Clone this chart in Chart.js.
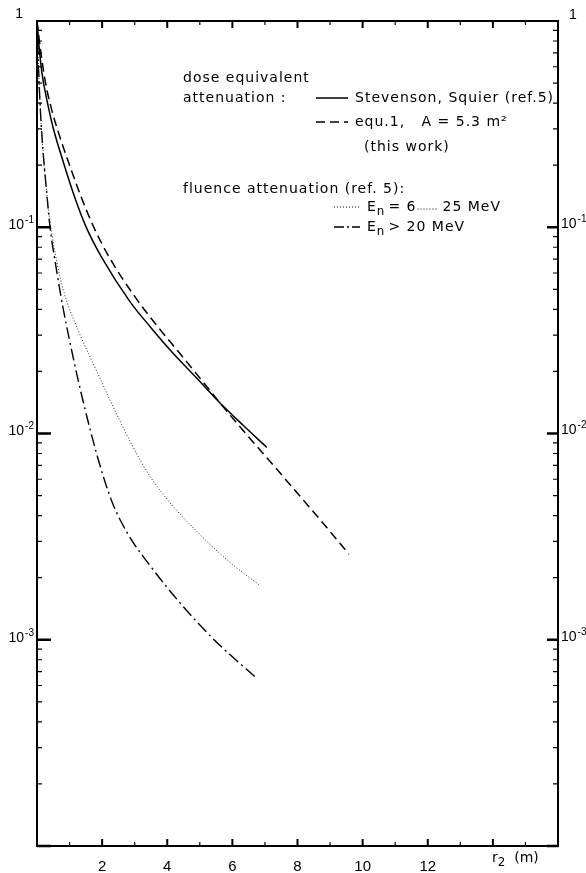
<!DOCTYPE html>
<html>
<head>
<meta charset="utf-8">
<script src="https://cdn.jsdelivr.net/npm/chart.js@4.4.0/dist/chart.umd.min.js"></script>
<style>
  html, body { margin: 0; padding: 0; background: #fff; }
</style>
</head>
<body>
<canvas id="myChart" width="586" height="873"></canvas>
<script>
// r2 in metres, attenuation values
const stevR = [0, 0.05, 0.15, 0.3, 0.5, 0.8, 1.15, 1.5, 2.0, 2.86, 3.5, 4.18, 4.9, 5.53, 6.33, 7.06];
const stevH = [1, 0.794, 0.562, 0.417, 0.302, 0.209, 0.141, 0.101, 0.0708, 0.0435, 0.0326, 0.0245, 0.0186, 0.01455, 0.01096, 0.00855];

const equR = [0, 0.1, 0.25, 0.45, 0.7, 1.0, 1.35, 1.72, 2.2, 3.0, 3.7, 4.39, 5.0, 5.62, 6.33, 7.2, 8.0, 8.8, 9.58];
const equH = [1, 0.741, 0.513, 0.372, 0.275, 0.2, 0.141, 0.102, 0.0724, 0.0462, 0.0331, 0.0244, 0.0186, 0.01406, 0.01035, 0.00719, 0.00513, 0.00365, 0.0026];

// fluence En = 6 ... 25 MeV
const fl6R = [0, 0.04, 0.1, 0.18, 0.28, 0.4, 0.6, 0.8, 1.32, 1.84, 2.55, 3.32, 4.0, 5.0, 6.0, 6.82];
const fl6H = [1, 0.631, 0.38, 0.24, 0.158, 0.107, 0.0692, 0.0501, 0.0302, 0.01995, 0.01148, 0.00676, 0.00479, 0.00324, 0.00232, 0.00185];

// fluence En > 20 MeV
const fl20R = [0, 0.04, 0.1, 0.18, 0.28, 0.4, 0.55, 0.8, 1.11, 1.41, 1.87, 2.3, 2.8, 3.47, 4.39, 5.47, 6.70];
const fl20H = [1, 0.631, 0.38, 0.24, 0.158, 0.1, 0.0692, 0.0407, 0.0234, 0.01445, 0.00759, 0.00468, 0.00324, 0.00229, 0.00151, 0.000989, 0.00066];

const xTickLabels = ['2', '4', '6', '8', '10', '12'];
const yDecades = [0, -1, -2, -3];   // exponents that get a label

const FONT = "'DejaVu Sans', sans-serif";
const NUMFONT = "'Liberation Sans', Arial, sans-serif";

function toPoints(xs, ys) {
  return xs.map((x, i) => ({ x: x, y: ys[i] }));
}

// draws text with subscript parts, left aligned
function richText(ctx, x, y, parts, size) {
  let cx = x;
  parts.forEach(p => {
    const s = p.sub ? size * 0.85 : size;
    ctx.font = s + 'px ' + FONT;
    ctx.fillText(p.t, cx, p.sub ? y + 5 : y);
    cx += ctx.measureText(p.t).width;
    if (p.gap) cx += p.gap;
  });
  return cx;
}

// "10" with raised exponent
function powerLabel(ctx, x, y, e, alignRight) {
  ctx.font = '14px ' + NUMFONT;
  const base = e === 0 ? '1' : '10';
  const wb = ctx.measureText(base).width;
  ctx.font = '10px ' + NUMFONT;
  const ex = e === 0 ? '' : '-' + Math.abs(e);
  const we = ex ? ctx.measureText(ex).width + 1 : 0;
  const x0 = alignRight ? x - wb - we : x;
  ctx.font = '14px ' + NUMFONT;
  ctx.fillText(base, x0, y);
  if (ex) {
    ctx.font = '10px ' + NUMFONT;
    ctx.fillText(ex, x0 + wb + 1, y - 5);
  }
}

function sample(ctx, x1, x2, y, dash, width) {
  ctx.save();
  ctx.lineWidth = width;
  ctx.setLineDash(dash);
  ctx.beginPath();
  ctx.moveTo(x1, y);
  ctx.lineTo(x2, y);
  ctx.stroke();
  ctx.restore();
}

const framePlugin = {
  id: 'frame',
  afterDraw(chart) {
    const ctx = chart.ctx;
    const a = chart.chartArea;
    const xs = chart.scales.x;
    const ys = chart.scales.y;
    ctx.save();
    ctx.strokeStyle = '#000';
    ctx.fillStyle = '#000';
    ctx.lineWidth = 2;
    ctx.strokeRect(a.left, a.top, a.right - a.left, a.bottom - a.top);

    // y ticks, pointing inwards
    for (let e = -4; e <= -1; e++) {
      for (let m = 1; m <= 9; m++) {
        const py = ys.getPixelForValue(m * Math.pow(10, e));
        const major = m === 1;
        ctx.lineWidth = major ? 2.5 : 1.2;
        ctx.beginPath();
        ctx.moveTo(a.left, py); ctx.lineTo(a.left + (major ? 14 : 5), py);
        ctx.moveTo(a.right, py); ctx.lineTo(a.right - (major ? 11 : 5), py);
        ctx.stroke();
      }
    }
    // y labels on both sides
    ctx.textBaseline = 'middle';
    ctx.textAlign = 'left';
    yDecades.forEach(e => {
      const py = ys.getPixelForValue(Math.pow(10, e));
      if (e === 0) {
        powerLabel(ctx, 23, py - 7, e, true);
        powerLabel(ctx, 569, py - 6, e, false);
      } else {
        powerLabel(ctx, 34, py - 2, e, true);
        powerLabel(ctx, 561, py - 3, e, false);
      }
    });

    // x ticks
    for (let i = 1; i <= 15; i++) {
      const px = xs.getPixelForValue(i);
      const major = i % 2 === 0;
      ctx.lineWidth = major ? 2 : 1.2;
      const len = major ? 7 : 4;
      ctx.beginPath();
      ctx.moveTo(px, a.bottom); ctx.lineTo(px, a.bottom - len);
      ctx.moveTo(px, a.top); ctx.lineTo(px, a.top + len);
      ctx.stroke();
    }

    // axis title r2 (m)
    const tx = xs.getPixelForValue(14) - 1;
    richText(ctx, tx, 858, [{ t: 'r' }, { t: '2', sub: true, gap: 9 }, { t: '(m)' }], 14);

    // legend
    ctx.letterSpacing = '1px';
    const fs = 14;
    ctx.font = fs + 'px ' + FONT;
    ctx.fillText('dose equivalent', 183, 78);
    ctx.fillText('attenuation :', 183, 98);
    sample(ctx, 316, 348, 98, [], 1.5);
    ctx.font = fs + 'px ' + FONT;
    ctx.fillText('Stevenson, Squier (ref.5)', 355, 98);
    sample(ctx, 316, 348, 122, [9, 5], 1.5);
    ctx.font = fs + 'px ' + FONT;
    ctx.fillText('equ.1,   A = 5.3 m\u00B2', 355, 122);
    ctx.fillText('(this work)', 364, 147);
    ctx.fillText('fluence attenuation (ref. 5):', 183, 189);

    sample(ctx, 334, 360, 207, [1, 2], 1);
    let ex = richText(ctx, 367, 207, [{ t: 'E' }, { t: 'n', sub: true, gap: 3 }, { t: '= 6' }], fs);
    sample(ctx, ex + 1, ex + 22, 209, [1, 2], 1);
    ctx.font = fs + 'px ' + FONT;
    ctx.fillText('25 MeV', ex + 26, 207);

    sample(ctx, 334, 360, 227, [10, 3, 2, 3], 1.5);
    richText(ctx, 367, 227, [{ t: 'E' }, { t: 'n', sub: true, gap: 3 }, { t: '> 20 MeV' }], fs);
    ctx.restore();
  }
};

const ctx = document.getElementById('myChart').getContext('2d');
const myChart = new Chart(ctx, {
  type: 'line',
  data: {
    datasets: [
      { label: 'Stevenson, Squier (ref.5)', data: toPoints(stevR, stevH), borderColor: '#000', borderWidth: 1.5, pointRadius: 0, cubicInterpolationMode: 'monotone' },
      { label: 'equ.1, A=5.3 m2 (this work)', data: toPoints(equR, equH), borderColor: '#000', borderWidth: 1.5, borderDash: [9, 5], pointRadius: 0, cubicInterpolationMode: 'monotone' },
      { label: 'En = 6 ... 25 MeV', data: toPoints(fl6R, fl6H), borderColor: '#222', borderWidth: 1, borderDash: [1, 2], pointRadius: 0, cubicInterpolationMode: 'monotone' },
      { label: 'En > 20 MeV', data: toPoints(fl20R, fl20H), borderColor: '#000', borderWidth: 1.4, borderDash: [12, 4, 2, 4], pointRadius: 0, cubicInterpolationMode: 'monotone' }
    ]
  },
  options: {
    responsive: false,
    animation: false,
    devicePixelRatio: 1,
    layout: { padding: { top: 21, left: 0, right: 0, bottom: 0 } },
    plugins: { legend: { display: false }, tooltip: { enabled: false } },
    scales: {
      x: {
        type: 'linear', min: 0, max: 16,
        grid: { display: false }, border: { display: false },
        ticks: {
          stepSize: 2, autoSkip: false, maxRotation: 0, padding: 4, color: '#000',
          font: { family: NUMFONT, size: 15 },
          callback: v => xTickLabels.includes(String(v)) ? String(v) : ''
        },
        afterFit: s => { s.height = 27; }
      },
      y: {
        type: 'logarithmic', min: 1e-4, max: 1, position: 'left',
        grid: { display: false }, border: { display: false },
        ticks: { display: false },
        afterFit: s => { s.width = 37; }
      },
      y2: {
        type: 'logarithmic', min: 1e-4, max: 1, position: 'right',
        grid: { display: false }, border: { display: false },
        ticks: { display: false },
        afterFit: s => { s.width = 28; }
      }
    }
  },
  plugins: [framePlugin]
});
</script>
</body>
</html>
